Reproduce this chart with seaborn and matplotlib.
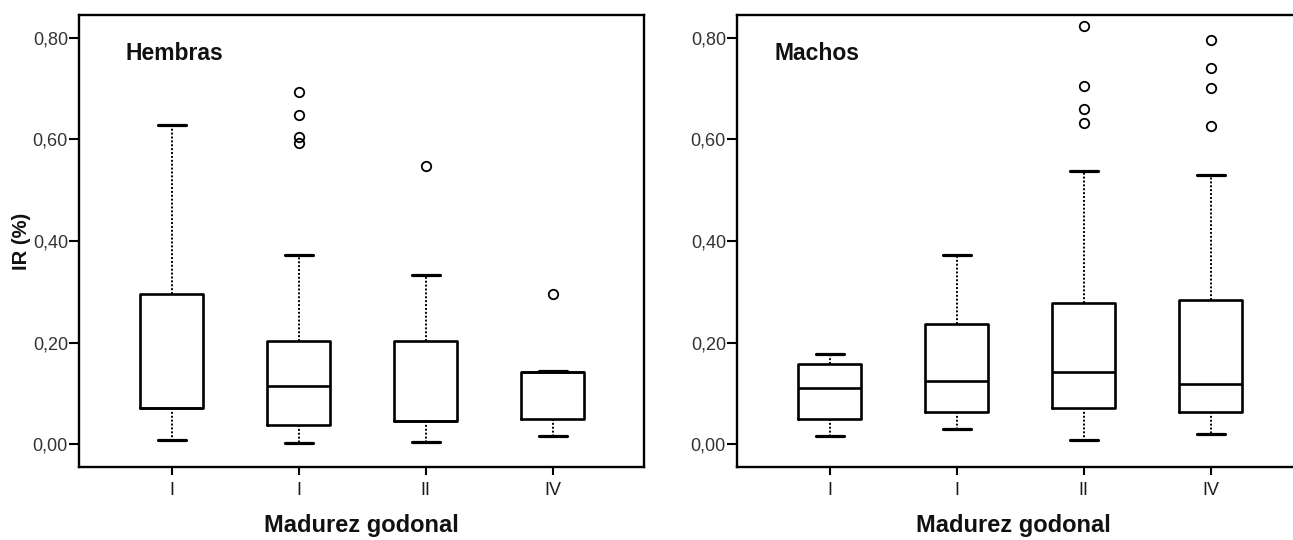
import matplotlib
matplotlib.use("Agg")
import matplotlib.pyplot as plt
import seaborn as sns
from matplotlib.ticker import FixedLocator, FuncFormatter

# Gonadal maturity stages (x categories)
stages = ["I", "I", "II", "IV"]
yticks = [0.0, 0.2, 0.4, 0.6, 0.8]

# Females: five-number summaries and outliers per stage
h_whislo = [0.008, 0.003, 0.005, 0.017]
h_q1 = [0.071, 0.037, 0.046, 0.050]
h_med = [0.071, 0.115, 0.046, 0.142]
h_q3 = [0.295, 0.203, 0.203, 0.142]
h_whishi = [0.629, 0.373, 0.333, 0.145]
h_fliers = [[], [0.693, 0.648, 0.604, 0.592], [0.547], [0.295]]

# Males: five-number summaries and outliers per stage
m_whislo = [0.017, 0.029, 0.008, 0.020]
m_q1 = [0.050, 0.064, 0.071, 0.064]
m_med = [0.110, 0.125, 0.143, 0.118]
m_q3 = [0.158, 0.236, 0.278, 0.283]
m_whishi = [0.178, 0.373, 0.537, 0.529]
m_fliers = [[], [], [0.823, 0.705, 0.660, 0.633], [0.795, 0.740, 0.701, 0.627]]

sns.set_theme(style="ticks")
plt.rcParams["font.family"] = ["Liberation Sans", "DejaVu Sans"]
plt.rcParams["axes.linewidth"] = 1.7


def summaries(lo, q1, med, q3, hi, fl):
    return [
        dict(whislo=a, q1=b, med=c, q3=d, whishi=e, fliers=f, label=s)
        for a, b, c, d, e, f, s in zip(lo, q1, med, q3, hi, fl, stages)
    ]


def draw_panel(ax, stats, title, title_x):
    ax.bxp(
        stats,
        positions=range(len(stats)),
        widths=0.5,
        capwidths=0.22,
        showfliers=True,
        boxprops=dict(color="black", linewidth=1.9),
        medianprops=dict(color="black", linewidth=1.9),
        whiskerprops=dict(color="black", linewidth=1.4, linestyle=(0, (1, 1))),
        capprops=dict(color="black", linewidth=2.3),
        flierprops=dict(marker="o", markerfacecolor="none", markeredgecolor="black",
                        markersize=6.8, markeredgewidth=1.3, linestyle="none"),
    )
    ax.set_xlim(-0.73, 3.72)
    ax.set_ylim(-0.045, 0.845)
    ax.yaxis.set_major_locator(FixedLocator(yticks))
    ax.yaxis.set_major_formatter(FuncFormatter(lambda v, p: f"{v:.2f}".replace(".", ",")))
    ax.set_xticks(range(len(stages)))
    ax.set_xticklabels(stages)
    ax.tick_params(axis="y", direction="out", length=7, width=1.5, pad=1,
                   labelsize=13, labelcolor="#333333", color="black")
    ax.tick_params(axis="x", direction="out", length=6, width=1.5, pad=5,
                   labelsize=13, labelcolor="#1a1a1a", color="black")
    for sp in ax.spines.values():
        sp.set_visible(True)
        sp.set_color("black")
        sp.set_linewidth(1.7)
    ax.text(title_x, 0.914, title, transform=ax.transAxes, fontsize=16.5,
            fontweight="bold", ha="left", va="center", color="#111111")
    ax.set_facecolor("white")


fig = plt.figure(figsize=(12.93, 5.40), dpi=100)
ax1 = fig.add_axes([79 / 1293, 73 / 540, 565 / 1293, 452 / 540])
ax2 = fig.add_axes([737 / 1293, 73 / 540, 565 / 1293, 452 / 540])

draw_panel(ax1, summaries(h_whislo, h_q1, h_med, h_q3, h_whishi, h_fliers), "Hembras", 0.083)
draw_panel(ax2, summaries(m_whislo, m_q1, m_med, m_q3, m_whishi, m_fliers), "Machos", 0.066)

ax1.set_ylabel("IR (%)", fontsize=14.5, fontweight="bold", color="#111111")
ax1.yaxis.set_label_coords(-0.085, 0.5)
for ax, xc in ((ax1, 0.5), (ax2, 0.49)):
    ax.set_xlabel("Madurez godonal", fontsize=17, fontweight="bold", color="#111111")
    ax.xaxis.set_label_coords(xc, -0.103)

fig.savefig("out.png", dpi=100, facecolor="white")
